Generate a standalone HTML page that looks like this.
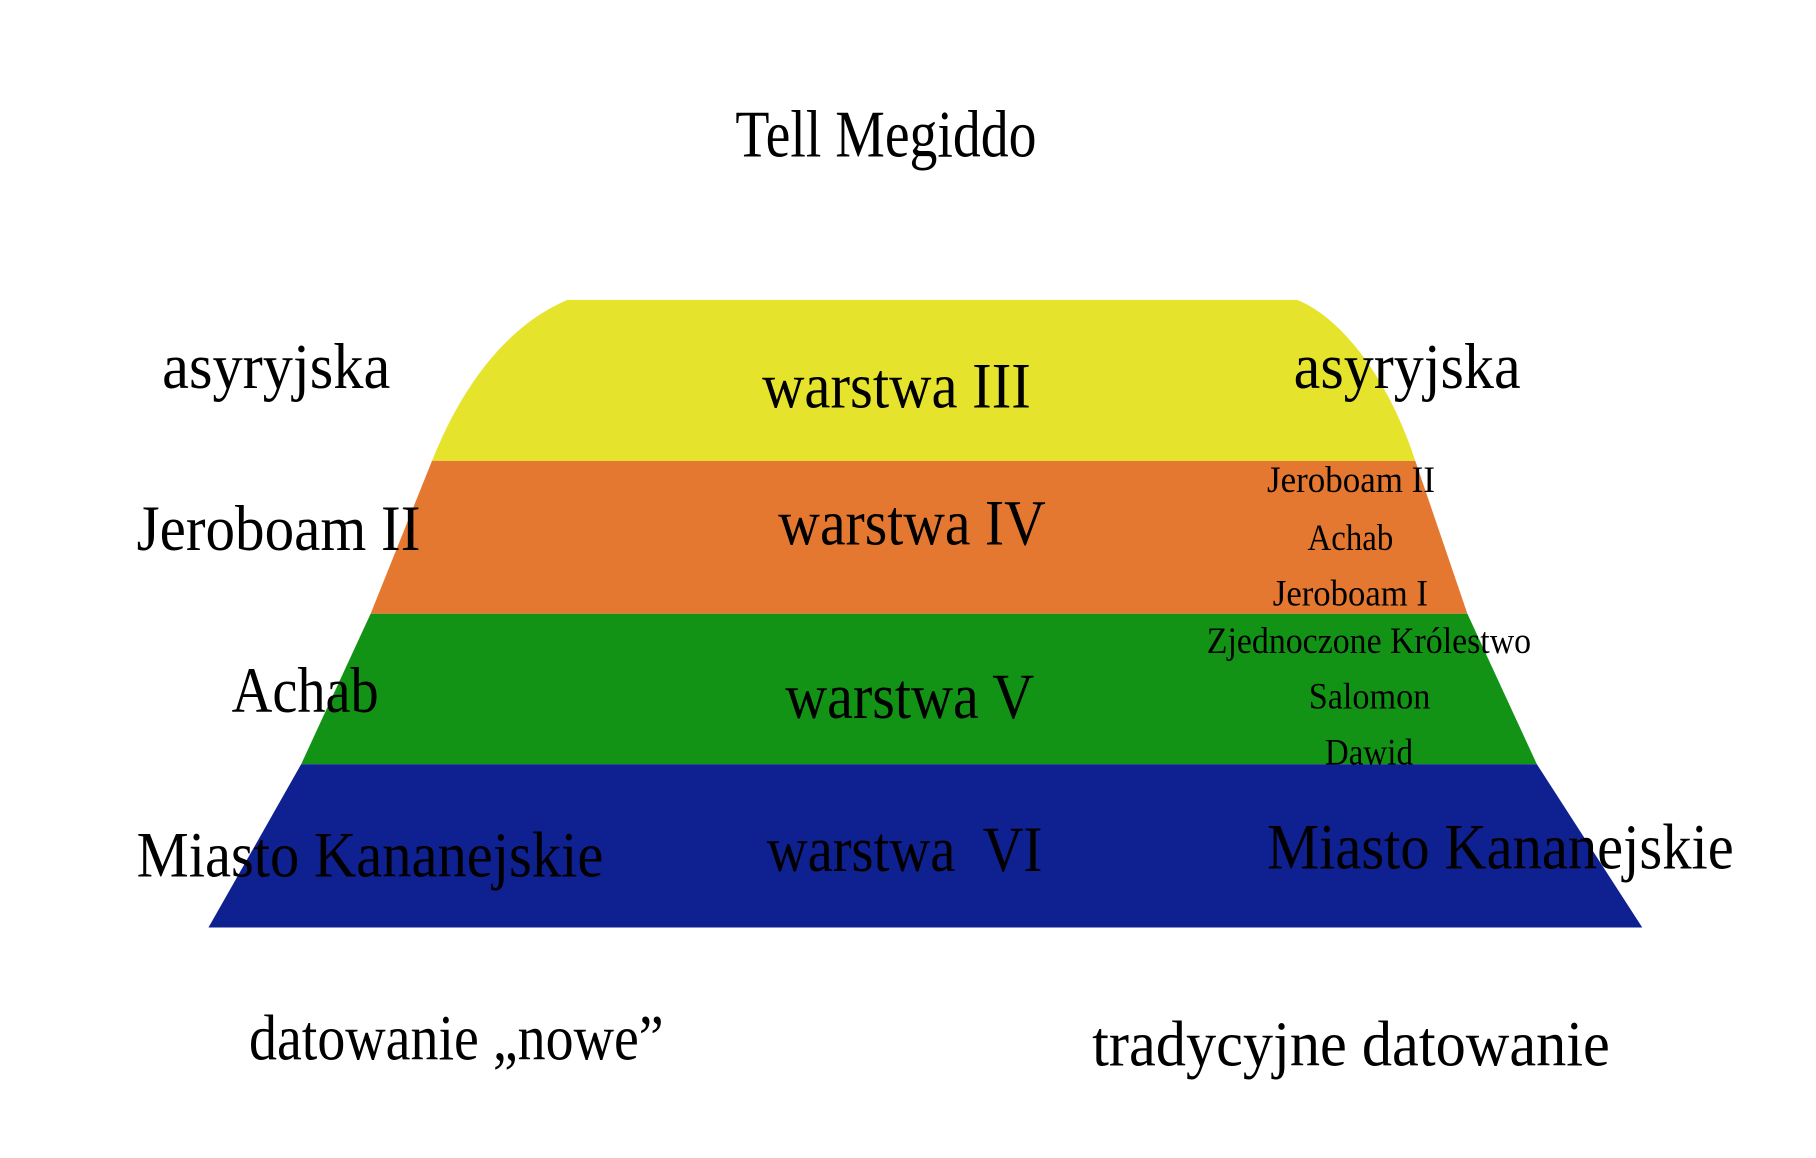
<!DOCTYPE html>
<html><head><meta charset="utf-8"><style>
html,body{margin:0;padding:0;background:#fff;}
svg{display:block;}
text{font-family:"Liberation Serif",serif;fill:#000;}
</style></head><body>
<svg width="1816" height="1158" viewBox="0 0 1568 1000" preserveAspectRatio="none" xmlns="http://www.w3.org/2000/svg">
<rect width="1568" height="1000" fill="#fff"/>
<path d="M373,398 C400,330 440,280 490,259 L1120,259 C1160,275 1200,330 1222,398 Z" fill="#e5e32b"/>
<polygon points="373,398 1222,398 1267,530 320,530" fill="#e57830"/>
<polygon points="320,530 1267,530 1327,660 260,660" fill="#139316"/>
<polygon points="260,660 1327,660 1418,801 180,801" fill="#0f2090"/>

<text x="635" y="135" font-size="58" textLength="260" lengthAdjust="spacingAndGlyphs">Tell Megiddo</text>
<text x="140" y="335" font-size="56" textLength="197" lengthAdjust="spacingAndGlyphs">asyryjska</text>
<text x="658" y="352" font-size="56" textLength="232" lengthAdjust="spacingAndGlyphs">warstwa III</text>
<text x="1117" y="335" font-size="56" textLength="196" lengthAdjust="spacingAndGlyphs">asyryjska</text>

<text x="118" y="475" font-size="56" textLength="245" lengthAdjust="spacingAndGlyphs">Jeroboam II</text>
<text x="672" y="470" font-size="56" textLength="231" lengthAdjust="spacingAndGlyphs">warstwa IV</text>

<text x="1094" y="425" font-size="32" textLength="145" lengthAdjust="spacingAndGlyphs">Jeroboam II</text>
<text x="1129" y="475" font-size="32" textLength="74" lengthAdjust="spacingAndGlyphs">Achab</text>
<text x="1099" y="523" font-size="32" textLength="134" lengthAdjust="spacingAndGlyphs">Jeroboam I</text>
<text x="1042" y="564" font-size="32" textLength="280" lengthAdjust="spacingAndGlyphs">Zjednoczone Królestwo</text>
<text x="1130" y="612" font-size="32" textLength="105" lengthAdjust="spacingAndGlyphs">Salomon</text>
<text x="1144" y="660" font-size="32" textLength="76" lengthAdjust="spacingAndGlyphs">Dawid</text>

<text x="200" y="615" font-size="56" textLength="127" lengthAdjust="spacingAndGlyphs">Achab</text>
<text x="678" y="620" font-size="56" textLength="215" lengthAdjust="spacingAndGlyphs">warstwa V</text>

<text x="118" y="757" font-size="56" textLength="403" lengthAdjust="spacingAndGlyphs">Miasto Kananejskie</text>
<text x="662" y="752" font-size="56" textLength="238" lengthAdjust="spacingAndGlyphs" xml:space="preserve">warstwa  VI</text>
<text x="1094" y="750" font-size="56" textLength="403" lengthAdjust="spacingAndGlyphs">Miasto Kananejskie</text>

<text x="215" y="915" font-size="56" textLength="358" lengthAdjust="spacingAndGlyphs">datowanie „nowe”</text>
<text x="943" y="920" font-size="56" textLength="447" lengthAdjust="spacingAndGlyphs">tradycyjne datowanie</text>
</svg>
</body></html>
